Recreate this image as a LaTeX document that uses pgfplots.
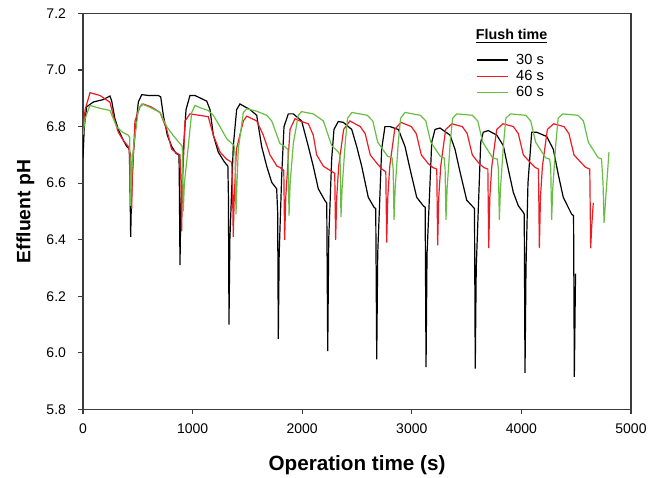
\documentclass[border=0pt]{standalone}
\usepackage{fontspec}
\setmainfont{Liberation Sans}
\usepackage{pgfplots}
\pgfplotsset{compat=1.18}
\definecolor{cRed}{RGB}{235,28,36}
\definecolor{cGreen}{RGB}{104,189,69}
\definecolor{cAxis}{RGB}{60,60,60}
\pgfplotsset{
  flushline/.style={legend image code/.code={\draw[##1, line width=1.1pt] (0pt,0pt) -- (23.25pt,0pt);}},
}

\begin{document}
\begin{tikzpicture}
\begin{axis}[
  scale only axis, width=411pt, height=297pt,
  xmin=0, xmax=5000, ymin=5.8, ymax=7.2,
  xtick={0,1000,2000,3000,4000,5000},
  ytick={5.8,6.0,6.2,6.4,6.6,6.8,7.0,7.2},
  tick pos=left, tick align=outside, major tick length=3.75pt,
  axis line style={cAxis, line width=1.1pt},
  tick style={cAxis, line width=0.9pt},
  /pgf/number format/assume math mode=true,
  tick label style={font=\fontsize{10.5}{12}\selectfont},
  xticklabel style={/pgf/number format/set thousands separator={}, yshift=-3.5pt},
  yticklabel style={/pgf/number format/.cd, fixed, fixed zerofill, precision=1, /tikz/.cd, xshift=-5.5pt},
  xlabel={Operation time (s)}, ylabel={Effluent pH},
  x label style={font=\fontsize{15.5}{17}\selectfont\bfseries, at={(axis description cs:0.5,-0.1149)}, anchor=north, inner sep=0pt},
  y label style={font=\fontsize{14.5}{16}\selectfont\bfseries, at={(axis description cs:-0.088,0.5)}, anchor=south, inner sep=0pt},
  legend style={draw=none, at={(rel axis cs:0.7166,0.9063)}, anchor=north west, inner sep=0pt,
    font=\fontsize{11}{13}\selectfont, row sep=-1.55pt, column sep=3.5pt, nodes={inner sep=2.3pt}},
  legend cell align=left,
  every axis plot/.append style={line width=0.9pt, flushline},
]
% 30 s flush
\addplot[black] coordinates {
(0,6.69) (12,6.80) (34,6.87) (94,6.887) (180,6.895) (246,6.908) (262,6.89) (290,6.83) (322,6.79) (370,6.75) (399,6.73) (422,6.72) (428,6.62) (435,6.41) (443,6.56) (458,6.70)
(474,6.77) (505,6.887) (536,6.913) (600,6.91) (687,6.91) (709,6.905) (733,6.84) (769,6.77) (809,6.73) (850,6.705) (876,6.70) (880,6.56) (885,6.31) (892,6.50)
(915,6.71) (940,6.86) (976,6.91) (1022,6.91) (1129,6.89) (1159,6.86) (1189,6.77) (1234,6.71) (1290,6.675) (1322,6.66) (1327,6.55) (1332,6.10) (1340,6.40)
(1371,6.73) (1402,6.86) (1432,6.88) (1524,6.86) (1585,6.84) (1630,6.73) (1676,6.66) (1722,6.603) (1767,6.58) (1776,6.50) (1782,6.05) (1790,6.35)
(1813,6.627) (1834,6.80) (1873,6.845) (1919,6.845) (1995,6.82) (2056,6.73) (2101,6.66) (2147,6.58) (2208,6.538) (2224,6.53) (2233,6.006) (2242,6.40)
(2269,6.686) (2290,6.79) (2329,6.818) (2375,6.815) (2452,6.79) (2497,6.73) (2543,6.66) (2603,6.55) (2655,6.515) (2671,6.51) (2680,5.977) (2689,6.35)
(2725,6.72) (2755,6.80) (2801,6.80) (2877,6.79) (2938,6.73) (2984,6.65) (3045,6.55) (3105,6.52) (3122,6.515) (3130,5.95) (3139,6.35)
(3182,6.745) (3212,6.79) (3257,6.795) (3349,6.77) (3394,6.72) (3440,6.64) (3501,6.54) (3561,6.515) (3572,6.51) (3579,5.944) (3588,6.30)
(3607,6.51) (3629,6.745) (3652,6.78) (3698,6.786) (3775,6.77) (3835,6.733) (3880,6.65) (3926,6.568) (3972,6.52) (4017,6.497) (4026,6.49) (4033,5.929) (4042,6.30)
(4060,6.60) (4094,6.78) (4140,6.78) (4231,6.765) (4291,6.72) (4337,6.63) (4382,6.55) (4459,6.49) (4476,6.485) (4483,5.915) (4494,6.28)
};
% 46 s flush
\addplot[cRed] coordinates {
(0,6.80) (20,6.86) (64,6.92) (155,6.91) (246,6.886) (290,6.82) (322,6.78) (370,6.75) (413,6.73) (436,6.70) (440,6.62) (444,6.51) (450,6.62)
(474,6.82) (520,6.87) (550,6.88) (620,6.87) (703,6.85) (764,6.79) (809,6.72) (860,6.705) (885,6.70) (894,6.60) (900,6.43) (908,6.60)
(931,6.82) (976,6.845) (1060,6.84) (1143,6.835) (1189,6.77) (1250,6.71) (1310,6.685) (1357,6.674) (1364,6.60) (1371,6.41) (1380,6.55)
(1400,6.72) (1463,6.82) (1494,6.837) (1530,6.83) (1585,6.82) (1645,6.77) (1706,6.70) (1770,6.66) (1797,6.656) (1832,6.645) (1840,6.40) (1850,6.55)
(1889,6.79) (1934,6.828) (1980,6.82) (2056,6.81) (2101,6.77) (2132,6.70) (2193,6.66) (2284,6.638) (2297,6.635) (2305,6.40) (2315,6.55)
(2333,6.66) (2378,6.79) (2435,6.82) (2530,6.80) (2575,6.775) (2621,6.70) (2682,6.67) (2727,6.65) (2763,6.64) (2771,6.39) (2781,6.55)
(2799,6.66) (2844,6.79) (2901,6.815) (2996,6.80) (3041,6.775) (3087,6.70) (3148,6.67) (3193,6.655) (3228,6.65) (3236,6.38) (3246,6.55)
(3264,6.66) (3309,6.79) (3366,6.81) (3461,6.80) (3506,6.775) (3552,6.70) (3613,6.67) (3658,6.655) (3694,6.65) (3702,6.37) (3712,6.55)
(3730,6.66) (3775,6.79) (3832,6.81) (3927,6.80) (3972,6.775) (4018,6.70) (4079,6.674) (4124,6.656) (4156,6.65) (4164,6.37) (4174,6.55)
(4192,6.66) (4237,6.79) (4294,6.81) (4389,6.80) (4434,6.775) (4480,6.70) (4541,6.674) (4586,6.656) (4624,6.65) (4632,6.37) (4642,6.45) (4656,6.53)
};
% 60 s flush
\addplot[cGreen] coordinates {
(0,6.77) (20,6.83) (64,6.875) (150,6.865) (246,6.857) (307,6.80) (360,6.78) (413,6.77) (426,6.76) (430,6.62) (435,6.52) (442,6.62)
(459,6.72) (505,6.86) (536,6.88) (600,6.87) (703,6.85) (764,6.80) (820,6.77) (885,6.74) (906,6.73) (910,6.62) (915,6.50) (925,6.60)
(946,6.675) (992,6.85) (1022,6.875) (1080,6.865) (1143,6.857) (1189,6.84) (1250,6.80) (1311,6.757) (1378,6.733) (1388,6.70) (1396,6.49) (1405,6.60)
(1417,6.72) (1463,6.85) (1494,6.863) (1580,6.855) (1676,6.84) (1722,6.82) (1797,6.74) (1828,6.733) (1870,6.72) (1880,6.485) (1890,6.60)
(1919,6.74) (1964,6.84) (1995,6.853) (2101,6.845) (2193,6.82) (2269,6.733) (2329,6.71) (2345,6.70) (2354,6.48) (2364,6.58)
(2392,6.74) (2414,6.83) (2454,6.85) (2594,6.84) (2644,6.82) (2689,6.745) (2779,6.695) (2820,6.69) (2830,6.65) (2838,6.47) (2848,6.58)
(2876,6.74) (2898,6.83) (2938,6.85) (3078,6.84) (3128,6.82) (3173,6.745) (3260,6.695) (3295,6.69) (3304,6.65) (3312,6.47) (3322,6.58)
(3350,6.74) (3372,6.83) (3412,6.845) (3552,6.84) (3602,6.82) (3647,6.745) (3737,6.69) (3780,6.685) (3790,6.65) (3799,6.47) (3809,6.58)
(3837,6.74) (3859,6.83) (3899,6.845) (4040,6.84) (4085,6.82) (4130,6.745) (4220,6.69) (4258,6.685) (4268,6.65) (4276,6.47) (4286,6.58)
(4314,6.74) (4336,6.83) (4376,6.845) (4516,6.84) (4566,6.82) (4611,6.745) (4700,6.69) (4731,6.686) (4745,6.60) (4754,6.46) (4770,6.55) (4799,6.71)
};
\legend{30 s, 46 s, 60 s}
\node[anchor=base west, inner sep=0pt, font=\fontsize{10.7}{12}\selectfont\bfseries] at (rel axis cs:0.7166,0.933) {\underline{Flush time}};
\end{axis}
\pgfresetboundingbox
\path[use as bounding box] (-62.25pt,-51.4pt) rectangle (434.25pt,307.1pt);
\end{tikzpicture}
\end{document}
